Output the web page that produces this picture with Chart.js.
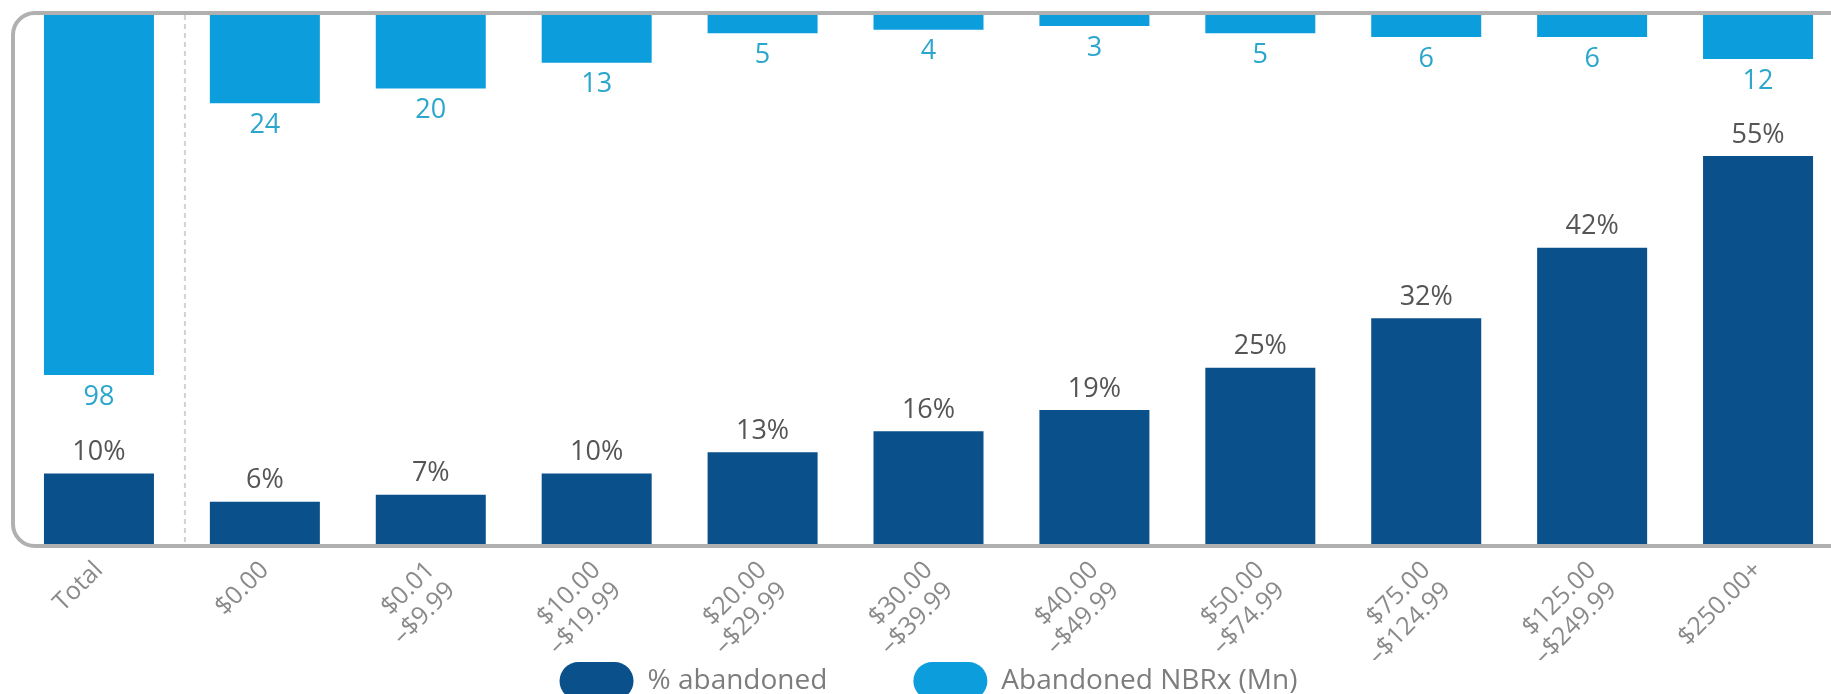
<!DOCTYPE html>
<html>
<head>
<meta charset="utf-8">
<title>Abandonment by out-of-pocket cost</title>
<script src="https://cdn.jsdelivr.net/npm/chart.js@4.4.1/dist/chart.umd.min.js"></script>
<style>
  html, body { margin: 0; padding: 0; background: #fff; overflow: hidden; }
  #chart { display: block; }
</style>
</head>
<body>
<canvas id="chart" width="1841" height="710"></canvas>
<script>
// cost buckets on the x axis; ranges are split over two lines
const costBuckets = [
  'Total',
  '$0.00',
  ['$0.01', '–$9.99'],
  ['$10.00', '–$19.99'],
  ['$20.00', '–$29.99'],
  ['$30.00', '–$39.99'],
  ['$40.00', '–$49.99'],
  ['$50.00', '–$74.99'],
  ['$75.00', '–$124.99'],
  ['$125.00', '–$249.99'],
  '$250.00+'
];
const pctAbandoned = [10, 6, 7, 10, 13, 16, 19, 25, 32, 42, 55];
const abandonedNbrx = [98, 24, 20, 13, 5, 4, 3, 5, 6, 6, 12];

const DARK = '#0a508b';
const LIGHT = '#0c9ddc';
const FONT = "'Open Sans', 'DejaVu Sans', sans-serif";

// rounded frame around the plot + dashed divider after "Total"
const framePlugin = {
  id: 'frame',
  beforeDatasetsDraw(chart) {
    const { ctx, chartArea: a, scales: { x } } = chart;
    ctx.save();
    ctx.strokeStyle = '#b0b0b0';
    ctx.lineWidth = 4;
    ctx.beginPath();
    ctx.roundRect(a.left - 3, a.top - 2, chart.width + 40, a.bottom - a.top + 4, 22);
    ctx.stroke();

    const xd = (x.getPixelForValue(0) + x.getPixelForValue(1)) / 2 + 3;
    ctx.setLineDash([5, 4]);
    ctx.lineWidth = 2;
    ctx.strokeStyle = '#d2d2d2';
    ctx.beginPath();
    ctx.moveTo(xd, a.top);
    ctx.lineTo(xd, a.bottom);
    ctx.stroke();
    ctx.restore();
  }
};

// value labels: % above the dark bars, counts under the hanging bars
const valueLabels = {
  id: 'valueLabels',
  afterDatasetsDraw(chart) {
    const { ctx } = chart;
    ctx.save();
    ctx.font = '27px ' + FONT;
    ctx.textAlign = 'center';
    ctx.textBaseline = 'middle';
    chart.data.datasets.forEach((ds, i) => {
      const meta = chart.getDatasetMeta(i);
      meta.data.forEach((bar, j) => {
        const v = ds.data[j];
        if (ds.yAxisID === 'yTop') {
          ctx.fillStyle = '#2ba6cc';
          ctx.fillText(String(v), bar.x, bar.y + 22);
        } else {
          ctx.fillStyle = '#555';
          ctx.fillText(v + '%', bar.x, bar.y - 21);
        }
      });
    });
    ctx.restore();
  }
};

new Chart(document.getElementById('chart'), {
  type: 'bar',
  data: {
    labels: costBuckets,
    datasets: [
      {
        label: '% abandoned',
        data: pctAbandoned,
        backgroundColor: DARK,
        yAxisID: 'y',
        grouped: false,
        maxBarThickness: 110,
        barPercentage: 0.9,
        categoryPercentage: 0.9
      },
      {
        label: 'Abandoned NBRx (Mn)',
        data: abandonedNbrx,
        backgroundColor: LIGHT,
        yAxisID: 'yTop',
        grouped: false,
        maxBarThickness: 110,
        barPercentage: 0.9,
        categoryPercentage: 0.9
      }
    ]
  },
  options: {
    responsive: false,
    animation: false,
    layout: { padding: { left: 16, top: 15, right: 0, bottom: 0 } },
    scales: {
      x: {
        grid: { display: false, drawTicks: false },
        border: { display: false },
        ticks: {
          color: '#8a8a8a',
          font: { family: FONT, size: 25, lineHeight: 1.15 },
          minRotation: 45,
          maxRotation: 45,
          padding: 12,
          autoSkip: false
        },
        afterFit(scale) { scale.height = 116; }
      },
      y: { display: false, min: 0, max: 75 },
      yTop: { display: false, reverse: true, min: 0, max: 144 }
    },
    plugins: {
      tooltip: { enabled: false },
      legend: {
        position: 'bottom',
        labels: {
          color: '#7d7d7d',
          font: { family: FONT, size: 28 },
          boxWidth: 74,
          boxHeight: 38,
          useBorderRadius: true,
          borderRadius: 19,
          padding: 2,
          // wider gap after the first entry (padding also sets the row offset)
          generateLabels(chart) {
            const items = Chart.defaults.plugins.legend.labels.generateLabels(chart);
            items[0].text += '\u2003\u2003\u2003';
            return items;
          }
        }
      }
    }
  },
  plugins: [framePlugin, valueLabels]
});
</script>
</body>
</html>
